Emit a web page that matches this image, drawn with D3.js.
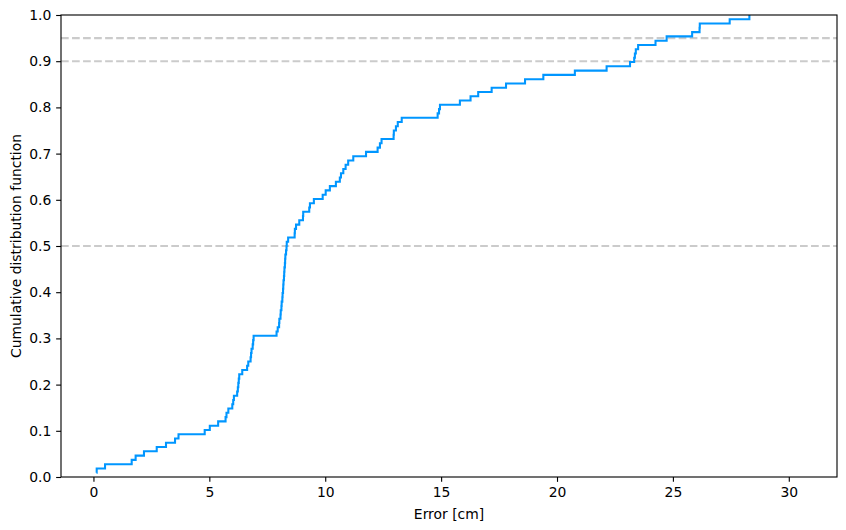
<!DOCTYPE html>
<html>
<head>
<meta charset="utf-8">
<script src="https://cdnjs.cloudflare.com/ajax/libs/d3/7.8.5/d3.min.js"></script>
<style>
  body { margin: 0; background: #fff; }
  text { font-family: "DejaVu Sans", sans-serif; }
</style>
</head>
<body>
<div id="containerCdf"></div>
<script>
// sorted error samples [cm]
let errorsCm = [
    0.13, 0.14, 0.50, 1.65, 1.82, 2.18, 2.73, 3.13, 3.52, 3.67,
    4.80, 5.02, 5.38, 5.70, 5.74, 5.82, 5.99, 6.03, 6.06, 6.20,
    6.23, 6.25, 6.27, 6.29, 6.42, 6.63, 6.68, 6.78, 6.80, 6.82,
    6.87, 6.89, 6.91, 7.90, 7.95, 8.01, 8.02, 8.07, 8.08, 8.11,
    8.12, 8.15, 8.16, 8.18, 8.19, 8.20, 8.22, 8.23, 8.24, 8.26,
    8.27, 8.28, 8.31, 8.33, 8.34, 8.40, 8.68, 8.69, 8.74, 8.88,
    9.04, 9.05, 9.31, 9.34, 9.51, 9.89, 10.02, 10.20, 10.46, 10.63,
    10.68, 10.78, 10.88, 10.99, 11.21, 11.76, 12.26, 12.36, 12.43, 12.95,
    12.96, 13.05, 13.13, 13.30, 14.85, 14.91, 14.95, 15.81, 16.27, 16.60,
    17.18, 17.80, 18.62, 19.41, 20.77, 22.14, 23.15, 23.33, 23.36, 23.40,
    23.50, 24.25, 24.73, 25.83, 26.15, 26.16, 27.45, 28.30
];
let refLevels = [0.5, 0.9, 0.95];
let xTicks = [0, 5, 10, 15, 20, 25, 30];
let yTicks = [0, 0.1, 0.2, 0.3, 0.4, 0.5, 0.6, 0.7, 0.8, 0.9, 1.0];

function mainCdf() {
    let margin = {top: 15, right: 9, bottom: 53, left: 61};
    let W = 846, H = 530;
    let w = W - margin.left - margin.right;
    let h = H - margin.top - margin.bottom;
    let fontStyle = "13.9px 'DejaVu Sans', sans-serif";
    let tickLen = 4.86;

    let svg = d3.select("#containerCdf")
                .append("svg")
                .attr("width", W)
                .attr("height", H);

    let g = svg.append("g")
               .attr("transform", "translate(" + margin.left + "," + margin.top + ")");

    let x = d3.scaleLinear().domain([-1.4, 32.08]).range([0, w]);
    let y = d3.scaleLinear().domain([0, 1]).range([h, 0]);

    // ecdf points: y = (i+1)/N
    let n = errorsCm.length;
    let cdf = errorsCm.map(function(d, i) { return [d, (i + 1) / n]; });

    // reference lines
    g.selectAll("line.ref")
     .data(refLevels)
     .enter().append("line")
     .attr("class", "ref")
     .attr("x1", 0).attr("x2", w)
     .attr("y1", function(d) { return y(d); })
     .attr("y2", function(d) { return y(d); })
     .style("stroke", "#cbcbcb")
     .style("stroke-width", 2.08)
     .style("stroke-dasharray", "7.7,3.33");

    let line = d3.line()
                 .x(function(d) { return x(d[0]); })
                 .y(function(d) { return y(d[1]); })
                 .curve(d3.curveStepAfter);

    g.append("path")
     .datum(cdf)
     .attr("d", line)
     .style("fill", "none")
     .style("stroke", "#0096ff")
     .style("stroke-width", 2.08);

    // axes
    let xAxis = g.append("g")
                 .attr("transform", "translate(0," + h + ")")
                 .call(d3.axisBottom(x).tickValues(xTicks).tickSize(tickLen).tickPadding(4.86).tickFormat(d3.format("d")));
    let yAxis = g.append("g")
                 .call(d3.axisLeft(y).tickValues(yTicks).tickSize(tickLen).tickPadding(4.86).tickFormat(d3.format(".1f")));

    [xAxis, yAxis].forEach(function(a) {
        a.select(".domain").remove();
        a.selectAll(".tick line").style("stroke", "#000").style("stroke-width", 1.11);
        a.selectAll(".tick text").style("font", fontStyle).style("fill", "#000");
    });

    // frame
    g.append("rect")
     .attr("x", 0).attr("y", 0)
     .attr("width", w).attr("height", h)
     .style("fill", "none")
     .style("stroke", "#000")
     .style("stroke-width", 1.11);

    // labels
    svg.append("text")
       .style("font", fontStyle)
       .attr("text-anchor", "middle")
       .attr("x", margin.left + w / 2)
       .attr("y", 519)
       .text("Error [cm]");

    svg.append("text")
       .style("font", fontStyle)
       .attr("text-anchor", "middle")
       .attr("transform", "translate(21," + (margin.top + h / 2) + ") rotate(-90)")
       .text("Cumulative distribution function");
}

mainCdf();
</script>
</body>
</html>
